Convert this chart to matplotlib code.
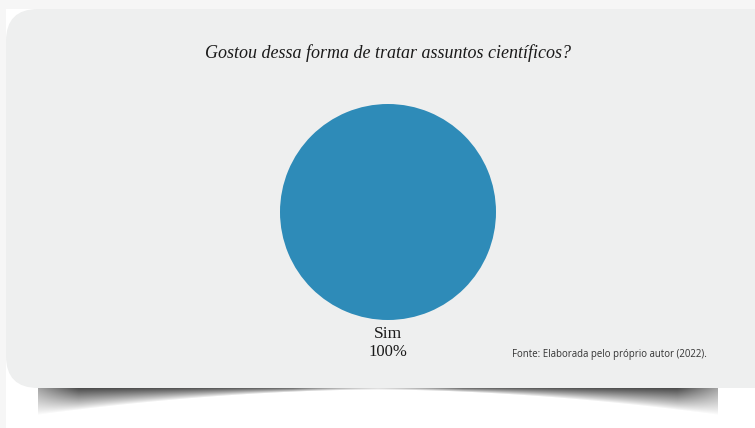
import numpy as np
import matplotlib
matplotlib.use("Agg")
import matplotlib.pyplot as plt
from matplotlib.patches import FancyBboxPatch

# data
labels = ["Sim"]
values = [100]
colors = ["#2e8bb8"]
title = "Gostou dessa forma de tratar assuntos científicos?"
source = "Fonte: Elaborada pelo próprio autor (2022)."

W, H = 755, 428
fig = plt.figure(figsize=(W / 100, H / 100), dpi=100)

# background axes in pixel coordinates
bg = fig.add_axes([0, 0, 1, 1])
bg.set_xlim(0, W)
bg.set_ylim(H, 0)
bg.axis("off")

# page: light grey outside, white image area, shadow under the card
X, Y = np.meshgrid(np.arange(W) + 0.5, np.arange(H) + 0.5)
page = np.full((H, W), 0.965)
page[(X >= 6) & (Y >= 9)] = 1.0
x0, x1, ytop = 38, 718, 387
u = np.clip((X - x0) / (x1 - x0), 0, 1)
d = np.abs(u - 0.5) * 2
depth = 3 + 25 * d ** 1.8
fall = np.clip(1 - (Y - ytop) / depth, 0, 1) ** 0.9
strength = 0.9 * np.clip(0.3 + 0.7 * d / 0.25, 0, 1) * np.clip(0.5 + 0.5 * (1 - d) / 0.12, 0, 1)
alpha = np.where((Y >= ytop) & (X >= x0) & (X <= x1), fall * strength, 0)
img = page * (1 - alpha) + 0.18 * alpha
rgb = np.repeat(img[..., None], 3, axis=2)
bg.imshow(rgb, extent=(0, W, H, 0), zorder=1, interpolation="none", vmin=0, vmax=1)
bg.set_xlim(0, W)
bg.set_ylim(H, 0)

# card
card = FancyBboxPatch((6, 9), 780, 379, boxstyle="round,pad=0,rounding_size=32",
                      facecolor="#eeefef", edgecolor="none", zorder=2)
bg.add_patch(card)

bg.text(388, 53, title, ha="center", va="center", fontsize=13,
        family="Liberation Serif", style="italic", color="#1a1a1a", zorder=3)
bg.text(388, 334, labels[0], ha="center", va="center", fontsize=12.5,
        family="Liberation Serif", color="#1a1a1a", zorder=3)
bg.text(388, 352, f"{values[0]}%", ha="center", va="center", fontsize=12,
        family="Liberation Serif", color="#1a1a1a", zorder=3)
bg.text(707, 355, source, ha="right", va="center", fontsize=6.9,
        family="Open Sans", color="#333333", zorder=3)

# pie
cx, cy, r = 388, 212, 108
ax = fig.add_axes([(cx - r) / W, (H - cy - r) / H, 2 * r / W, 2 * r / H])
ax.pie(values, colors=colors, startangle=90, radius=1,
       wedgeprops=dict(edgecolor="none"))
ax.set_xlim(-1, 1)
ax.set_ylim(-1, 1)
ax.set_aspect("equal")
ax.axis("off")

fig.savefig("out.png", dpi=100)
